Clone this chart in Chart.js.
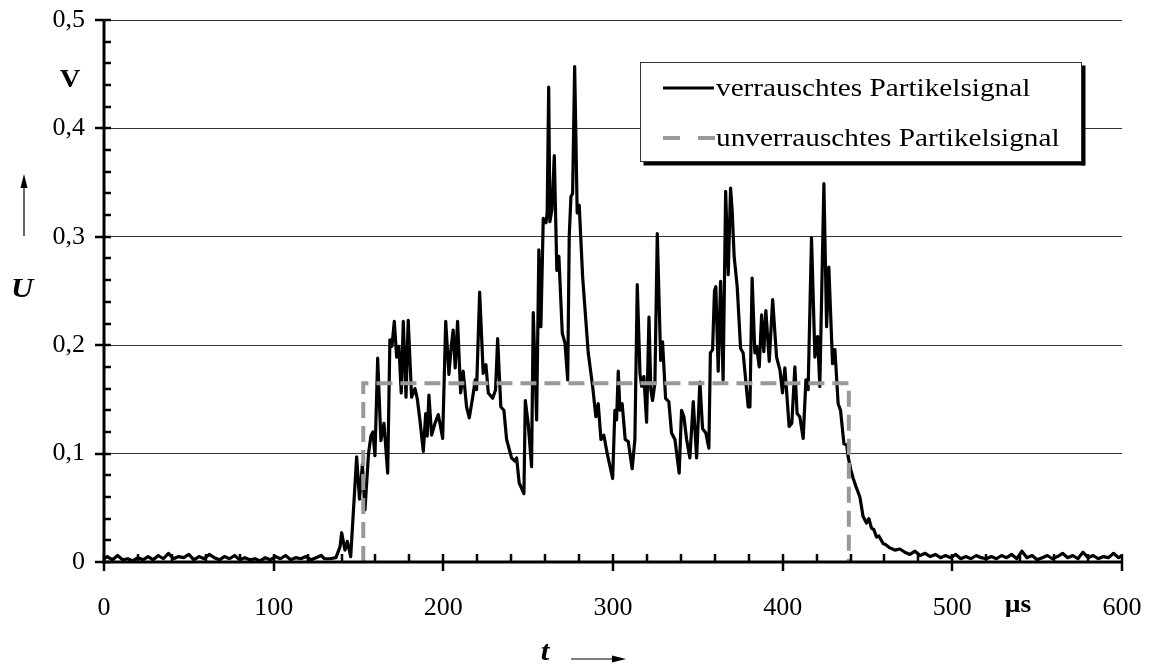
<!DOCTYPE html>
<html><head><meta charset="utf-8">
<script src="https://cdn.jsdelivr.net/npm/chart.js@4/dist/chart.umd.min.js"></script>
<style>html,body{margin:0;padding:0;background:#fff}#wrap{width:1150px;height:666px;position:relative}</style>
</head><body><div id="wrap"><canvas id="c" width="1150" height="666"></canvas></div>
<script>
// time axis (µs) of the noisy particle signal
const tNoisy=[0,2,5,8,11,14,17,20,23,26,29,32,35,38,41,44,47,50,53,56,59,62,65,68,71,74,77,80,83,86,89,92,95,98,101,104,107,110,113,116,119,122,125,128,130,
133.2,136.7,139.1,140.1,142.0,143.4,145.4,148.9,150.6,152.3,153.8,155.9,157.3,158.5,159.7,161.3,163.2,165.0,167.2,168.5,169.7,171.1,172.5,173.8,175.2,176.4,178.0,179.3,181.3,183.3,184.6,186.2,188.2,189.6,190.5,191.5,193.1,195.1,197.0,198.0,199.6,
201.4,203.3,204.5,205.8,207.0,208.4,210.2,211.7,213.7,215.3,217.3,218.8,219.6,221.4,223.5,225.1,226.5,229.1,230.8,232.0,233.9,235.7,237.3,240.2,242.2,243.2,244.7,247.5,248.3,250.0,252.0,253.0,255.0,256.3,257.5,258.9,260.5,261.2,262.1,262.8,264.0,265.4,266.9,268.1,270.1,271.7,273.3,274.2,275.2,276.2,277.4,278.9,280.1,282.1,285.4,288.0,289.9,291.3,292.9,294.6,296.6,299.8,
301.1,302.1,303.1,304.1,305.4,307.2,309.0,311.3,312.9,314.3,315.9,316.9,318.2,319.8,321.2,322.3,323.3,324.7,326.1,328.1,329.2,331.0,332.9,334.5,336.5,339.0,340.4,341.8,343.4,345.3,347.3,349.3,351.2,352.8,354.7,356.5,357.4,358.7,359.8,360.6,362.0,363.4,364.9,366.4,367.9,369.3,370.2,371.4,373.2,375.2,376.7,379.7,380.7,382.0,383.6,384.6,386.2,387.6,388.9,390.1,392.1,394.1,396.4,398.4,399.9,
401.3,402.7,403.8,405.4,407.2,408.5,410.1,412.1,413.7,415.0,417.0,419.0,420.6,421.9,424.3,425.9,427.2,429.4,430.8,432.7,434.1,436.1,437.7,438.6,440.2,441.4,443.1,444.3,445.5,447.4,449.4,450.8,452.4,453.7,455.3,456.7,459.2,460.8,463.2,466.1,469.1,
472,475,478,481,484,487,490,493,496,499,502,505,508,511,514,517,520,523,526,529,532,535,538,541,544,547,550,553,556,559,562,565,568,571,574,577,580,583,586,589,592,595,598,600];
// voltage (V) of the noisy particle signal
const uNoisy=[0.003,0.005,0.002,0.006,0.002,0.003,0.001,0.004,0.002,0.005,0.002,0.006,0.003,0.008,0.003,0.005,0.004,0.007,0.002,0.005,0.003,0.007,0.004,0.002,0.005,0.003,0.006,0.002,0.004,0.002,0.003,0.001,0.004,0.002,0.005,0.003,0.006,0.002,0.004,0.003,0.005,0.002,0.004,0.006,0.003,
0.003,0.004,0.014,0.027,0.011,0.019,0.005,0.097,0.058,0.09,0.048,0.1,0.116,0.12,0.098,0.188,0.112,0.128,0.082,0.205,0.199,0.222,0.189,0.199,0.156,0.222,0.152,0.223,0.152,0.16,0.151,0.131,0.102,0.137,0.116,0.154,0.117,0.128,0.136,0.128,0.114,
0.222,0.173,0.196,0.214,0.179,0.222,0.156,0.176,0.143,0.133,0.152,0.168,0.159,0.249,0.174,0.182,0.156,0.151,0.159,0.206,0.143,0.14,0.113,0.096,0.093,0.096,0.073,0.063,0.149,0.128,0.088,0.23,0.131,0.288,0.217,0.317,0.313,0.322,0.438,0.314,0.325,0.375,0.269,0.282,0.211,0.202,0.168,0.30,0.337,0.34,0.457,0.322,0.329,0.263,0.193,0.162,0.134,0.146,0.113,0.117,0.1,0.077,
0.14,0.131,0.176,0.14,0.146,0.113,0.111,0.086,0.113,0.256,0.174,0.162,0.171,0.129,0.226,0.159,0.149,0.165,0.303,0.186,0.203,0.151,0.148,0.119,0.113,0.082,0.14,0.134,0.113,0.096,0.148,0.096,0.166,0.123,0.119,0.105,0.193,0.196,0.25,0.254,0.176,0.259,0.168,0.342,0.265,0.345,0.325,0.282,0.254,0.197,0.193,0.143,0.143,0.262,0.193,0.199,0.18,0.228,0.194,0.232,0.185,0.242,0.189,0.177,0.156,
0.179,0.149,0.125,0.128,0.18,0.137,0.134,0.114,0.168,0.159,0.299,0.189,0.208,0.162,0.349,0.217,0.272,0.183,0.196,0.146,0.14,0.109,0.108,0.097,0.085,0.078,0.07,0.065,0.06,0.042,0.036,0.04,0.031,0.03,0.023,0.024,0.017,0.016,0.013,0.011,0.012,
0.009,0.007,0.01,0.006,0.008,0.005,0.007,0.004,0.006,0.004,0.007,0.003,0.005,0.003,0.006,0.004,0.003,0.005,0.003,0.006,0.004,0.007,0.003,0.01,0.004,0.006,0.002,0.004,0.006,0.003,0.005,0.008,0.004,0.006,0.003,0.009,0.004,0.006,0.003,0.005,0.004,0.008,0.004,0.006];
// noise-free (ideal) particle signal
const tClean=[152.8,152.8,439,439];
const uClean=[0,0.165,0.165,0];
const xTickValues=[0,100,200,300,400,500,600];
const yTickValues=[0,0.1,0.2,0.3,0.4,0.5];
const seriesNames=['verrauschtes Partikelsignal','unverrauschtes Partikelsignal'];

const SERIF='"Liberation Serif","Times New Roman",serif';

function stretchedText(ctx,txt,x,y,sx){
  ctx.save();ctx.translate(x,y);ctx.scale(sx,1);ctx.fillText(txt,0,0);ctx.restore();
}

const deco={
  id:'deco',
  afterDraw(chart){
    const ctx=chart.ctx, xs=chart.scales.x, ys=chart.scales.y, ca=chart.chartArea;
    ctx.save();
    ctx.strokeStyle='#000';ctx.fillStyle='#000';
    // axis lines
    ctx.lineWidth=3;
    ctx.beginPath();ctx.moveTo(ca.left,ca.top);ctx.lineTo(ca.left,ca.bottom+1.5);ctx.stroke();
    ctx.beginPath();ctx.moveTo(ca.left-1.5,ca.bottom);ctx.lineTo(ca.right,ca.bottom);ctx.stroke();
    // y ticks
    ctx.lineWidth=2.5;
    for(let k=0;k<=25;k++){
      const v=k*0.02, py=Math.round(ys.getPixelForValue(v));
      ctx.beginPath();
      if(k%5===0){ctx.moveTo(ca.left-9,py);ctx.lineTo(ca.left+7,py);} else {ctx.moveTo(ca.left,py);ctx.lineTo(ca.left+7,py);}
      ctx.stroke();
    }
    // x ticks
    for(let k=0;k<=30;k++){
      const t=k*20, px=Math.round(xs.getPixelForValue(t));
      ctx.beginPath();
      if(k%5===0){ctx.moveTo(px,ca.bottom-8);ctx.lineTo(px,ca.bottom+9);} else {ctx.moveTo(px,ca.bottom-8);ctx.lineTo(px,ca.bottom);}
      ctx.stroke();
    }
    // units and axis symbols
    ctx.textAlign='center';ctx.textBaseline='middle';
    ctx.font='bold 26px '+SERIF;stretchedText(ctx,'V',70,80,1.1);
    ctx.font='bold 25px '+SERIF;stretchedText(ctx,'µs',1018,606,1.1);
    ctx.font='italic bold 28px '+SERIF;stretchedText(ctx,'U',22,290,1.1);
    stretchedText(ctx,'t',545,653,1.1);
    // arrows
    ctx.lineWidth=1.2;
    ctx.beginPath();ctx.moveTo(24,236);ctx.lineTo(24,185);ctx.stroke();
    ctx.beginPath();ctx.moveTo(24,174);ctx.lineTo(20.5,188);ctx.lineTo(27.5,188);ctx.closePath();ctx.fill();
    ctx.beginPath();ctx.moveTo(571,659);ctx.lineTo(615,659);ctx.stroke();
    ctx.beginPath();ctx.moveTo(626,659);ctx.lineTo(612,655.5);ctx.lineTo(612,662.5);ctx.closePath();ctx.fill();
    // legend
    const L=640.5,T=62.5,W=441,H=99;
    ctx.fillStyle='#000';
    ctx.fillRect(L+3,T+H,W,4);
    ctx.fillRect(L+W,T+3,4,H+1);
    ctx.fillStyle='#fff';ctx.fillRect(L,T,W,H);
    ctx.strokeStyle='#333';ctx.lineWidth=1;ctx.strokeRect(L,T,W,H);
    ctx.strokeStyle='#000';ctx.lineWidth=3;
    ctx.beginPath();ctx.moveTo(663,88);ctx.lineTo(714,88);ctx.stroke();
    ctx.strokeStyle='#999';ctx.lineWidth=4;ctx.setLineDash([17,18]);
    ctx.beginPath();ctx.moveTo(663,138);ctx.lineTo(715,138);ctx.stroke();
    ctx.setLineDash([]);
    ctx.fillStyle='#000';ctx.font='25px '+SERIF;ctx.textAlign='left';ctx.textBaseline='middle';
    stretchedText(ctx,seriesNames[0],716,89,1.17);
    stretchedText(ctx,seriesNames[1],716,139,1.17);
    ctx.restore();
  }
};

function noPad(s){s.paddingTop=0;s.paddingBottom=0;s.paddingLeft=0;s.paddingRight=0;}

new Chart(document.getElementById('c'),{
  type:'line',
  data:{datasets:[
    {label:seriesNames[1],data:tClean.map((t,i)=>({x:t,y:uClean[i]})),borderColor:'#999',borderWidth:4,borderDash:[16,8],pointRadius:0,tension:0,fill:false},
    {label:seriesNames[0],data:tNoisy.map((t,i)=>({x:t,y:uNoisy[i]})),borderColor:'#000',borderWidth:3.2,pointRadius:0,tension:0,fill:false,borderJoinStyle:'round'}
  ]},
  options:{
    responsive:false,animation:false,devicePixelRatio:1,
    layout:{padding:{left:0,top:20,right:28,bottom:0}},
    plugins:{legend:{display:false},tooltip:{enabled:false}},
    scales:{
      x:{type:'linear',min:0,max:600,
        afterBuildTicks(s){s.ticks=xTickValues.map(v=>({value:v}));},
        afterFit(s){s.height=104;noPad(s);},
        grid:{display:false,drawTicks:false},border:{display:false},
        ticks:{font:{family:SERIF,size:26},color:'#000',padding:31,maxRotation:0,autoSkip:false,callback:v=>String(v)}},
      y:{type:'linear',min:0,max:0.5,
        afterBuildTicks(s){s.ticks=yTickValues.map(v=>({value:v}));},
        afterFit(s){s.width=104;noPad(s);},
        grid:{color:'#333',lineWidth:1,drawTicks:false},border:{display:false},
        ticks:{font:{family:SERIF,size:26},color:'#000',padding:19,autoSkip:false,callback:v=>v===0?'0':v.toFixed(1).replace('.',',')}}
    }
  },
  plugins:[deco]
});
</script></body></html>
